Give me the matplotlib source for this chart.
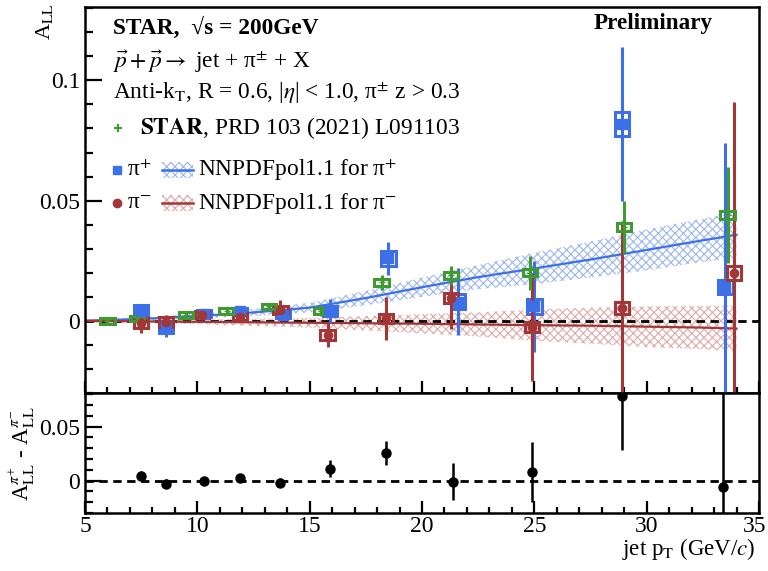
import matplotlib.pyplot as plt
from matplotlib.patches import Rectangle
from matplotlib.ticker import MultipleLocator
from matplotlib.transforms import ScaledTranslation

plt.rcParams['font.family'] = ['Liberation Serif', 'DejaVu Serif']
plt.rcParams['mathtext.fontset'] = 'stix'
plt.rcParams['hatch.linewidth'] = 0.8

# pi+ (this analysis)
pt_pip = [7.5, 8.6, 10.3, 11.9, 13.8, 15.9, 18.5, 21.6, 25.0, 28.9, 33.5]
all_pip = [0.004, -0.0025, 0.003, 0.004, 0.0025, 0.004, 0.026, 0.008, 0.006, 0.082, 0.014]
err_pip = [0.003, 0.004, 0.0015, 0.002, 0.002, 0.005, 0.007, 0.014, 0.019, 0.032, 0.06]
sys_pip = [0.0025, 0.0025, 0.0015, 0.0015, 0.0015, 0.002, 0.003, 0.003, 0.003, 0.005, 0.003]

# pi-
pt_pim = [7.5, 8.6, 10.2, 11.9, 13.7, 15.8, 18.4, 21.3, 24.9, 28.9, 33.9]
all_pim = [-0.001, -0.0005, 0.0025, 0.0018, 0.0045, -0.006, 0.001, 0.0095, -0.0025, 0.0055, 0.02]
err_pim = [0.004, 0.003, 0.0015, 0.002, 0.004, 0.005, 0.009, 0.013, 0.0225, 0.036, 0.071]
sys_pim = [0.002, 0.002, 0.0015, 0.0015, 0.0015, 0.002, 0.002, 0.002, 0.002, 0.0025, 0.003]

# STAR, PRD 103 (2021) L091103
pt_prd = [6.0, 7.3, 9.5, 11.3, 13.2, 15.5, 18.2, 21.3, 24.8, 29.0, 33.6]
all_prd = [0.0, 0.001, 0.0025, 0.004, 0.006, 0.004, 0.016, 0.019, 0.020, 0.039, 0.044]
err_prd = [0.001, 0.001, 0.001, 0.0015, 0.0015, 0.002, 0.003, 0.004, 0.007, 0.011, 0.02]
sys_prd = [0.0012, 0.0012, 0.0012, 0.0012, 0.0012, 0.0012, 0.0015, 0.0015, 0.0015, 0.0018, 0.0018]

# NNPDFpol1.1
theo_pt = [5, 7.5, 10, 12.5, 15, 17.5, 20, 22.5, 25, 27.5, 30, 32.5, 34]
theo_pip = [0.0, 0.0008, 0.002, 0.0035, 0.0055, 0.0095, 0.0140, 0.0182, 0.0218, 0.0255, 0.0295, 0.0335, 0.0358]
theo_pim = [0.0, -0.0002, -0.0004, -0.0006, -0.0008, -0.001, -0.0012, -0.0015, -0.0018, -0.002, -0.0024, -0.0028, -0.0032]
theo_unc = [0.0005, 0.0007, 0.001, 0.0015, 0.002, 0.003, 0.004, 0.005, 0.0065, 0.0075, 0.0085, 0.009, 0.0095]

# difference pi+ - pi-
pt_diff = [7.5, 8.6, 10.3, 11.9, 13.7, 15.9, 18.4, 21.4, 24.9, 28.9, 33.4]
diff = [0.0044, -0.003, 0.0, 0.0025, -0.002, 0.011, 0.0255, -0.0012, 0.008, 0.078, -0.006]
diff_err = [0.004, 0.004, 0.0015, 0.0025, 0.004, 0.008, 0.011, 0.017, 0.028, 0.05, 0.1]

blue = '#3d6fe6'
red = '#a33636'
green = '#3f9b2f'
blue_band = '#9bb6f2'
red_band = '#e0a8a8'

fig = plt.figure(figsize=(7.68, 5.71), dpi=100)
ax1 = fig.add_axes([0.1107, 0.3117, 0.8776, 0.676])
ax2 = fig.add_axes([0.1107, 0.1016, 0.8776, 0.2101], sharex=ax1)

# theory bands
lo = [v - u for v, u in zip(theo_pip, theo_unc)]
hi = [v + u for v, u in zip(theo_pip, theo_unc)]
ax1.fill_between(theo_pt, lo, hi, facecolor='none', edgecolor=blue_band, hatch='xxxx', linewidth=0)
lo = [v - u for v, u in zip(theo_pim, theo_unc)]
hi = [v + u for v, u in zip(theo_pim, theo_unc)]
ax1.fill_between(theo_pt, lo, hi, facecolor='none', edgecolor=red_band, hatch='xxxx', linewidth=0)
ax1.plot(theo_pt, theo_pip, color=blue, lw=1.6)
ax1.plot(theo_pt, theo_pim, color=red, lw=1.6)

ax1.axhline(0, color='black', ls=(0, (3, 2)), lw=2, zorder=1)


def draw_set(ax, pt, val, err, sys, color, marker, ms):
    ax.errorbar(pt, val, yerr=err, fmt=marker, color=color, ms=ms, elinewidth=2.2, capsize=0, zorder=3)
    for x, y, s in zip(pt, val, sys):
        ax.add_patch(Rectangle((x - 0.32, y - s), 0.64, 2 * s, fill=False, ec=color, lw=2.2, zorder=3))


draw_set(ax1, pt_pip, all_pip, err_pip, sys_pip, blue, 's', 7)
draw_set(ax1, pt_pim, all_pim, err_pim, sys_pim, red, 'o', 6)
draw_set(ax1, pt_prd, all_prd, err_prd, sys_prd, green, '+', 5)

ax1.set_xlim(5, 35)
ax1.set_ylim(-0.03, 0.1305)
ax1.set_yticks([0, 0.05, 0.1])
ax1.set_yticklabels(['0', '0.05', '0.1'])
ax1.yaxis.set_minor_locator(MultipleLocator(0.01))
ax1.xaxis.set_major_locator(MultipleLocator(5))
ax1.xaxis.set_minor_locator(MultipleLocator(1))
ax1.tick_params(labelbottom=False)

# bottom panel
ax2.axhline(0, color='black', ls=(0, (3, 2)), lw=2, zorder=1)
ax2.errorbar(pt_diff, diff, yerr=diff_err, fmt='o', color='black', ms=6.5, elinewidth=1.8, capsize=0)
ax2.set_ylim(-0.03, 0.081)
ax2.set_yticks([0, 0.05])
ax2.set_yticklabels(['0', '0.05'])
ax2.yaxis.set_minor_locator(MultipleLocator(0.01))
ax2.set_xticks([5, 10, 15, 20, 25, 30, 35])

for ax in (ax1, ax2):
    for sp in ax.spines.values():
        sp.set_linewidth(1.8)
    ax.tick_params(which='both', direction='in', labelsize=17, width=1.6)
    ax.tick_params(axis='y', which='major', length=12)
    ax.tick_params(axis='y', which='minor', length=6)
    ax.tick_params(axis='x', which='major', length=9, pad=2)
    ax.tick_params(axis='x', which='minor', length=4.5)

# keep the "35" label inside the canvas
last = ax2.get_xticklabels()[-1]
last.set_transform(last.get_transform() + ScaledTranslation(-3 / 72, 0, fig.dpi_scale_trans))

# labels
fig.text(0.058, 0.962, r'A$_{\mathrm{LL}}$', rotation=90, ha='center', va='center', fontsize=16)
fig.text(0.029, 0.205, r'A$_{\mathrm{LL}}^{\pi^{+}}$ - A$_{\mathrm{LL}}^{\pi^{-}}$', rotation=90,
         ha='center', va='center', fontsize=16.5)
fig.text(0.984, 0.038, r'jet p$_{\mathrm{T}}$ (GeV/$c$)', ha='right', va='center', fontsize=16.5)

# legend / annotations
fs = 16.8
tr = ax1.transAxes
ax1.text(0.0415, 0.9456, 'STAR,  \u221as = 200GeV', transform=tr, fontsize=fs, fontweight='bold', va='center')
ax1.text(0.0415, 0.8575, r'$\vec{p}+\vec{p}\rightarrow$ jet + π$^{\pm}$ + X', transform=tr, fontsize=fs, va='center')
ax1.text(0.0415, 0.777, r'Anti-k$_{\mathrm{T}}$, R = 0.6, |$\eta$| < 1.0, π$^{\pm}$ z > 0.3', transform=tr,
         fontsize=fs, va='center')
ax1.plot([0.049], [0.6865], marker='+', color=green, ms=6, mew=1.5, transform=tr)
ax1.text(0.0816, 0.6865, r'$\mathbf{STAR}$, PRD 103 (2021) L091103', transform=tr, fontsize=fs, va='center')

ax1.plot([0.0475], [0.5777], marker='s', color=blue, ms=6, transform=tr)
ax1.text(0.062, 0.5777, r'π$^{+}$', transform=tr, fontsize=fs, va='center')
ax1.add_patch(Rectangle((0.1142, 0.5777 - 0.02), 0.046, 0.04, transform=tr, facecolor='none',
                        edgecolor=blue_band, hatch='xxxx', lw=0))
ax1.plot([0.1142, 0.1602], [0.5777, 0.5777], color=blue, lw=1.8, transform=tr)
ax1.text(0.1677, 0.5777, r'NNPDFpol1.1 for π$^{+}$', transform=tr, fontsize=fs, va='center')

ax1.plot([0.0475], [0.4922], marker='o', color=red, ms=6, transform=tr)
ax1.text(0.062, 0.4922, r'π$^{-}$', transform=tr, fontsize=fs, va='center')
ax1.add_patch(Rectangle((0.1142, 0.4922 - 0.02), 0.046, 0.04, transform=tr, facecolor='none',
                        edgecolor=red_band, hatch='xxxx', lw=0))
ax1.plot([0.1142, 0.1602], [0.4922, 0.4922], color=red, lw=1.8, transform=tr)
ax1.text(0.1677, 0.4922, r'NNPDFpol1.1 for π$^{-}$', transform=tr, fontsize=fs, va='center')

ax1.text(0.843, 0.9585, 'Preliminary', transform=tr, fontsize=16.7, fontweight='bold', ha='center', va='center')

fig.savefig('out.png', dpi=100)
